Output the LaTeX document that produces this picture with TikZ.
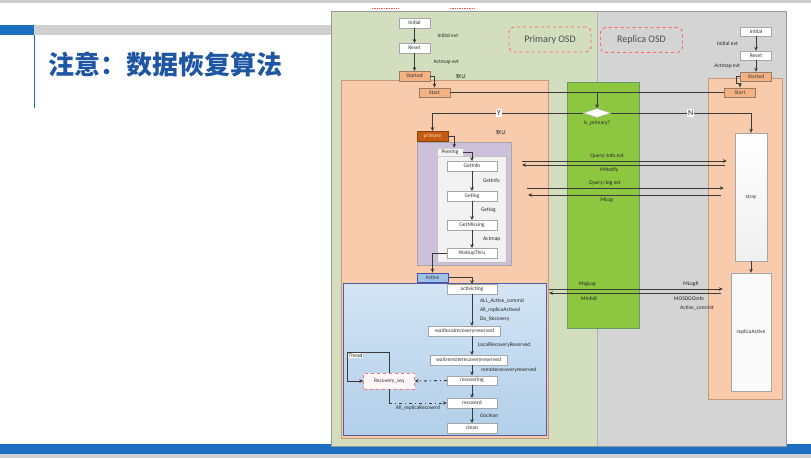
\documentclass[tikz,border=0pt]{standalone}
\usepackage{fontspec}
\setmainfont{Carlito}
\newfontfamily\cjk{Noto Sans CJK SC}
\usetikzlibrary{shapes.geometric,arrows.meta}

\definecolor{slideblue}{HTML}{1A6FC0}
\definecolor{titleblue}{HTML}{1F56A3}
\definecolor{bargray}{HTML}{D0D0D0}
\definecolor{primbg}{HTML}{D3DEBF}
\definecolor{repbg}{HTML}{D4D4D4}
\definecolor{statebg}{HTML}{F8CBAD}
\definecolor{stateline}{HTML}{C49A7C}
\definecolor{startfill}{HTML}{F4B183}
\definecolor{primfill}{HTML}{C55A11}
\definecolor{peerfill}{HTML}{CCC0DA}
\definecolor{activefill}{HTML}{9DC3E6}
\definecolor{rectop}{HTML}{D3E4F4}
\definecolor{recbot}{HTML}{B2CFEA}
\definecolor{decfill}{HTML}{8DC63F}
\definecolor{linegray}{HTML}{3A3A3A}

\tikzset{
  box/.style={draw=gray!70, fill=white, text=black!80, font=\fontsize{5.5}{6}\selectfont,
    inner sep=0pt, minimum height=9.5pt},
  small/.style={box, minimum width=31pt},
  wide/.style={box, minimum width=50pt},
  startbox/.style={small, fill=startfill, draw=stateline!80!black},
  lbl/.style={font=\fontsize{5.5}{6.5}\selectfont, text=black!85, inner sep=0.5pt},
  wire/.style={draw=linegray, line width=1pt},
  link/.style={wire, -{Stealth[length=4pt,width=3.6pt]}},
  dashlink/.style={link, dash pattern=on 3pt off 3pt on 1pt off 3pt},
  osd/.style={draw=red!60, dashed, rounded corners=5pt, line width=0.9pt,
    minimum width=82pt, minimum height=25pt, font=\fontsize{10}{12}\selectfont, text=black!70},
  yn/.style={fill=white, inner sep=1pt, text=black!80, font=\fontsize{8}{9}\selectfont},
}

\begin{document}
\begin{tikzpicture}[x=1pt, y=-1pt]
\useasboundingbox (0,0) rectangle (811,458);

% slide
\fill[gray!40] (0,0) rectangle (811,3);
\fill[slideblue] (0,25) rectangle (34,35);
\fill[bargray] (34,25) rectangle (331,35);
\draw[slideblue, line width=1pt] (34,35) -- (34,108);
\node[font=\cjk\bfseries\fontsize{26}{30}\selectfont, text=titleblue, anchor=west] (title) at (45,65) {注意：数据恢复算法};
\fill[slideblue] (0,444) rectangle (811,454);
\fill[bargray] (0,454) rectangle (811,458);
\draw[red!70, densely dotted, line width=0.7pt] (372,8) -- (398,8) (450,8) -- (474,8);

% lanes
\fill[primbg] (331,11) rectangle (597,446);
\fill[repbg] (597,11) rectangle (786,446);
\draw[gray!80, line width=1pt] (331,11) rectangle (786,446);
\draw[gray!60] (597,11) -- (597,446);
\node[osd] (posd) at (550,39.5) {Primary OSD};
\node[osd] (rosd) at (641.5,40) {Replica OSD};

% containers
\draw[stateline, fill=statebg] (341,80) rectangle (548,438);
\draw[stateline, fill=statebg] (708,78) rectangle (782,399);
\draw[green!35!black!60, fill=decfill] (567,82) rectangle (639,328);
\draw[gray!70, fill=peerfill] (417,142) rectangle (511,265);
\draw[gray!50, fill=gray!10] (437,156) rectangle (506,262);
\draw[blue!30!gray, top color=rectop, bottom color=recbot] (343,283) rectangle (546,435);

% primary side
\node[small] (init) at (414.5,23) {Initial};
\node[small] (reset) at (414.5,48) {Reset};
\node[startbox] (started) at (414.5,76) {Started};
\node[startbox] (start) at (434.5,92.5) {Start};
\node[lbl, font=\cjk\fontsize{5}{6}\selectfont] (dflt) at (461,77) {默认};
\node[small, fill=primfill, draw=primfill!70!black, text=orange!25!white] (primary) at (432.5,136) {primary};
\node[lbl, font=\cjk\fontsize{5}{6}\selectfont] (pdflt) at (501,133) {默认};
\node[box, fill=gray!8, draw=gray!40, minimum width=26pt, minimum height=8pt] (peering) at (450,152) {Peering};
\node[wide] (getinfo) at (472,166) {GetInfo};
\node[wide] (getlog) at (472,196) {Getlog};
\node[wide] (getmissing) at (472,225) {GetMissing};
\node[wide] (waitup) at (472,253) {WaitupThru};
\node[small, fill=activefill, draw=blue!40!gray] (active) at (432.5,277.5) {Active};
\node[wide] (activ) at (472,289) {activicting};
\node[box, minimum width=72pt] (waitlocal) at (464.5,331) {waitlocalrecoveryreserved};
\node[box, minimum width=77pt] (waitremote) at (468.5,360) {waitremoterecoveryreserved};
\node[wide] (recovering) at (472,380.5) {recovering};
\node[wide] (recoverd) at (472,403) {recoverd};
\node[wide] (clean) at (472,428) {clean};
\node[box, minimum width=51pt, minimum height=16pt, draw=red!55, dashed, fill=red!3] (wq) at (389,381) {Recovery\_wq};

% decision
\node[diamond, draw=gray!60, fill=white, aspect=3, minimum width=27pt, minimum height=9pt, inner sep=0pt] (isprim) at (597,113) {};
\node[lbl, below=2pt] (isprimtxt) at (isprim.south) {is\_primary?};

% replica side
\node[small, minimum height=9pt] (rinit) at (756,31.5) {Initial};
\node[small, minimum height=9pt] (rreset) at (756,55.5) {Reset};
\node[startbox, minimum height=9pt] (rstarted) at (756,76.5) {Started};
\node[startbox] (rstart) at (740,92.5) {Start};
\node[box, minimum width=32pt, minimum height=128pt, top color=white, bottom color=gray!12] (stray) at (751,197) {stray};
\node[box, minimum width=40pt, minimum height=118pt, fill=gray!4] (ractive) at (751,332) {replicaActive};

% primary transitions
\draw[link] (init) -- (reset) node[lbl, midway, right=22pt] {Initial evt};
\draw[link] (reset) -- (started) node[lbl, midway, right=18pt] {Actmap evt};
\draw[link] (started.east) -| (start.north);
\draw[wire] (start) -- (rstart);
\draw[link] (isprim |- start) -- (isprim.north);
\draw[link] (isprim.west) -| (primary.north) node[yn, pos=0.28] {Y};
\draw[link] (isprim.east) -| (stray.north) node[yn, pos=0.285] {N};
\draw[link] (primary.east) -| ([xshift=-9pt]peering.north east);
\draw[link] (peering.east) -| (getinfo.north);
\draw[link] (getinfo) -- (getlog) node[lbl, midway, right=10pt] {GetInfo};
\draw[link] (getlog) -- (getmissing) node[lbl, midway, right=8pt] {Getlog};
\draw[link] (getmissing) -- (waitup) node[lbl, midway, right=10pt] {Actmap};
\draw[link] (waitup.west) -| (active.north);
\draw[link] (active.east) -| (activ.north);
\draw[link] (activ) -- (activ |- waitlocal.north)
  node[lbl, midway, right=7pt, align=left, font=\fontsize{5.5}{9}\selectfont] {ALL\_Active\_commit\\All\_replicaActived\\Do\_Recovery};
\draw[link] (waitlocal.south -| activ) -- (waitremote.north -| activ) node[lbl, midway, right=5pt] {LocalRecoveryReserved};
\draw[link] (waitremote.south -| activ) -- (recovering) node[lbl, midway, right=8pt] {remoterecoveryreserved};
\draw[link] (recovering) -- (recoverd);
\draw[link] (recoverd) -- (clean) node[lbl, midway, right=7pt] {Goclean};
\draw[dashlink] (recovering) -- (wq);
\coordinate (theadc) at (347,352);
\draw[link] (wq.north) |- (theadc) |- (wq.west);
\node[lbl, anchor=north west, fill=white] (thead) at ([xshift=1pt, yshift=-1pt]theadc) {Thead};
\draw[wire] (wq.south) -- (wq.south |- recoverd.west);
\draw[dashlink] (wq.south |- recoverd.west) -- (recoverd.west) node[lbl, midway, below=2pt] {All\_replicaRecoverd};

% replica transitions
\draw[link] (rinit) -- (rreset) node[lbl, midway, left=17pt] {Initial evt};
\draw[link] (rreset) -- (rstarted) node[lbl, midway, left=15pt] {Actmap evt};
\draw[link] (rstarted.west) -- ++(-4,0) |- ([yshift=4pt]rstart.north) -- (rstart.north);
\draw[link] (stray) -- (ractive);

% messages
\coordinate (infol) at (522,161);
\coordinate (notifyl) at (522,165);
\coordinate (qlogl) at (527,188);
\coordinate (mlogl) at (528,195);
\coordinate (msglogl) at (549,289);
\coordinate (minfol) at (549,293);
\draw[link, shorten >=8pt] (infol) -- (infol -| stray.west) node[lbl, pos=0.4, above=2pt] {Query::info evt};
\draw[link, shorten <=10pt] (notifyl -| stray.west) -- (notifyl) node[lbl, pos=0.59, below=2pt] {MNotify};
\draw[link, shorten >=11pt] (qlogl) -- (qlogl -| stray.west) node[lbl, pos=0.375, above=2pt] {Query::log evt};
\draw[link, shorten <=14pt] (mlogl -| stray.west) -- (mlogl) node[lbl, pos=0.62, below=2pt] {MLog};
\draw[link, shorten >=8pt] (msglogl) -- (msglogl -| ractive.west)
  node[lbl, pos=0.21, above=2pt] {MsgLog} node[lbl, pos=0.78, above=2pt] {MLogR};
\draw[link, shorten <=10pt] (minfol -| ractive.west) -- (minfol)
  node[lbl, pos=0.78, below=3pt] {MInfoR}
  node[lbl, pos=0.23, below=3pt] (mosd) {MOSDOGInfo}
  node[lbl, pos=0.186, below=12pt] {Active\_commit};

\end{tikzpicture}
\end{document}
